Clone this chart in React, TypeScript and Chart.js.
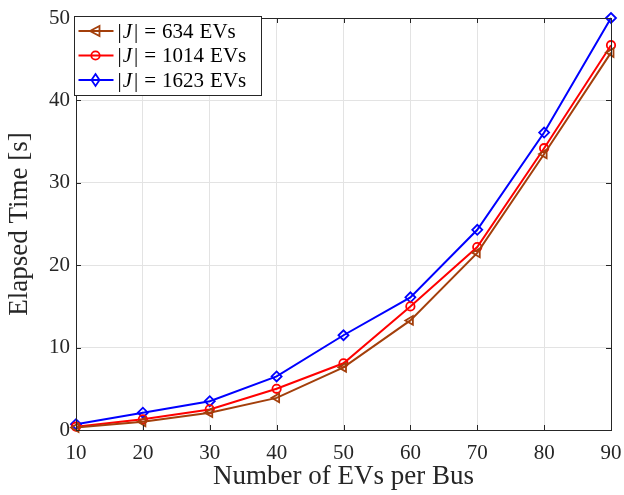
import React, { useEffect, useRef } from "react";
import { Chart, registerables } from "chart.js";

Chart.register(...registerables);

const evsPerBus = [10, 20, 30, 40, 50, 60, 70, 80, 90];
const series634 = [0.3, 1.0, 2.1, 3.9, 7.6, 13.3, 21.5, 33.5, 45.8];
const series1014 = [0.4, 1.3, 2.5, 5.0, 8.1, 15.0, 22.2, 34.2, 46.7];
const series1623 = [0.7, 2.1, 3.5, 6.5, 11.5, 16.1, 24.3, 36.1, 50.0];
const seriesLabels = ["634", "1014", "1623"];
const xTicks = [10, 20, 30, 40, 50, 60, 70, 80, 90];
const yTicks = [0, 10, 20, 30, 40, 50];

const COLORS = ["#A33F0B", "#FF0000", "#0000FF"];
const SERIF = '"Liberation Serif", "Times New Roman", serif';
const AXIS = "#262626";

function drawMarker(ctx: CanvasRenderingContext2D, kind: string, x: number, y: number, color: string) {
  ctx.save();
  ctx.strokeStyle = color;
  ctx.lineWidth = 1.8;
  ctx.beginPath();
  if (kind === "tri") {
    ctx.moveTo(x - 5.5, y);
    ctx.lineTo(x + 4, y - 5);
    ctx.lineTo(x + 4, y + 5);
    ctx.closePath();
  } else if (kind === "circ") {
    ctx.arc(x, y, 4.2, 0, Math.PI * 2);
  } else {
    ctx.moveTo(x, y - 6);
    ctx.lineTo(x + 4, y);
    ctx.lineTo(x, y + 6);
    ctx.lineTo(x - 4, y);
    ctx.closePath();
  }
  ctx.stroke();
  ctx.restore();
}

const markerKinds = ["tri", "circ", "diam"];

const framePlugin = {
  id: "matlabFrame",
  afterDatasetsDraw(chart: any) {
    const ctx = chart.ctx as CanvasRenderingContext2D;
    const { left, right, top, bottom } = chart.chartArea;
    const xs = chart.scales.x;
    const ys = chart.scales.y;
    ctx.save();
    ctx.strokeStyle = AXIS;
    ctx.lineWidth = 1;
    ctx.strokeRect(Math.round(left) + 0.5, Math.round(top) + 0.5, Math.round(right - left), Math.round(bottom - top));
    ctx.beginPath();
    for (const t of xTicks) {
      const px = Math.round(xs.getPixelForValue(t)) + 0.5;
      ctx.moveTo(px, bottom);
      ctx.lineTo(px, bottom - 5);
      ctx.moveTo(px, top);
      ctx.lineTo(px, top + 5);
    }
    for (const t of yTicks) {
      const py = Math.round(ys.getPixelForValue(t)) + 0.5;
      ctx.moveTo(left, py);
      ctx.lineTo(left + 5, py);
      ctx.moveTo(right, py);
      ctx.lineTo(right - 5, py);
    }
    ctx.stroke();
    ctx.restore();

    // Legend inside the axes, top-left
    const bx = Math.round(left) - 1.5;
    const by = Math.round(top) - 1.5;
    const bw = 187;
    const bh = 79;
    ctx.save();
    ctx.fillStyle = "#ffffff";
    ctx.fillRect(bx, by, bw, bh);
    ctx.strokeStyle = "#262626";
    ctx.lineWidth = 1;
    ctx.strokeRect(bx, by, bw, bh);
    const rowY = [31, 55.5, 80];
    const fontSize = 21;
    for (let i = 0; i < 3; i++) {
      const y = rowY[i];
      const c = COLORS[i];
      ctx.strokeStyle = c;
      ctx.lineWidth = 2;
      ctx.beginPath();
      ctx.moveTo(bx + 4, y);
      ctx.lineTo(bx + 39, y);
      ctx.stroke();
      drawMarker(ctx, markerKinds[i], bx + 21, y, c);
      ctx.fillStyle = "#000000";
      ctx.textBaseline = "middle";
      ctx.textAlign = "left";
      let tx = bx + 43;
      const parts: [string, boolean, number][] = [
        ["|", false, 1],
        ["J", true, 2],
        ["|", false, 6],
        ["=", false, 6],
        [seriesLabels[i], false, 6],
        ["EVs", false, 0],
      ];
      for (const [s, it, gap] of parts) {
        ctx.font = (it ? "italic " : "") + fontSize + "px " + SERIF;
        ctx.fillText(s, tx, y + 1);
        tx += ctx.measureText(s).width + gap;
      }
    }
    ctx.restore();
  },
};

export default function App() {
  const ref = useRef<HTMLCanvasElement | null>(null);
  useEffect(() => {
    if (!ref.current) return;
    const mk = (vals: number[], i: number, label: string) => ({
      label,
      data: evsPerBus.map((x, k) => ({ x, y: vals[k] })),
      borderColor: COLORS[i],
      backgroundColor: "rgba(0,0,0,0)",
      borderWidth: 2,
      pointStyle: i === 0 ? "triangle" : i === 1 ? "circle" : "rectRot",
      rotation: i === 0 ? -90 : 0,
      pointRadius: i === 1 ? 4.2 : 5,
      pointBorderWidth: 1.8,
      pointBorderColor: COLORS[i],
      pointBackgroundColor: "rgba(0,0,0,0)",
      tension: 0,
      clip: false as any,
    });
    const chart = new Chart(ref.current, {
      type: "line",
      data: {
        datasets: [
          mk(series634, 0, "|J| = 634 EVs"),
          mk(series1014, 1, "|J| = 1014 EVs"),
          mk(series1623, 2, "|J| = 1623 EVs"),
        ],
      },
      options: {
        animation: false,
        responsive: false,
        maintainAspectRatio: false,
        layout: { padding: { left: 0, right: 13, top: 18, bottom: 0 } },
        plugins: { legend: { display: false }, tooltip: { enabled: false } },
        scales: {
          x: {
            type: "linear",
            min: 10,
            max: 90,
            afterBuildTicks: (s: any) => {
              s.ticks = xTicks.map((v) => ({ value: v }));
            },
            afterFit: (s: any) => {
              s.height = 65;
              s.paddingLeft = 0;
              s.paddingRight = 0;
            },
            grid: { color: "#e3e3e3", drawTicks: false, lineWidth: 1 },
            border: { display: false },
            ticks: { color: AXIS, font: { family: SERIF, size: 21 }, padding: 11, maxRotation: 0 },
            title: {
              display: true,
              text: "Number of EVs per Bus",
              color: AXIS,
              font: { family: SERIF, size: 27 },
              padding: { top: 0, bottom: 2 },
            },
          },
          y: {
            type: "linear",
            min: 0,
            max: 50,
            afterBuildTicks: (s: any) => {
              s.ticks = yTicks.map((v) => ({ value: v }));
            },
            afterFit: (s: any) => {
              s.width = 76;
              s.paddingTop = 0;
              s.paddingBottom = 0;
            },
            grid: { color: "#e3e3e3", drawTicks: false, lineWidth: 1 },
            border: { display: false },
            ticks: { color: AXIS, font: { family: SERIF, size: 21 }, padding: 6 },
            title: {
              display: true,
              text: "Elapsed Time [s]",
              color: AXIS,
              font: { family: SERIF, size: 27 },
              padding: { top: 4, bottom: 0 },
            },
          },
        },
      },
      plugins: [framePlugin],
    });
    return () => chart.destroy();
  }, []);
  return (
    <div style={{ position: "fixed", left: 0, top: 0, width: 624, height: 495, background: "#fff" }}>
      <canvas ref={ref} width={624} height={495} style={{ width: 624, height: 495, display: "block" }} />
    </div>
  );
}
